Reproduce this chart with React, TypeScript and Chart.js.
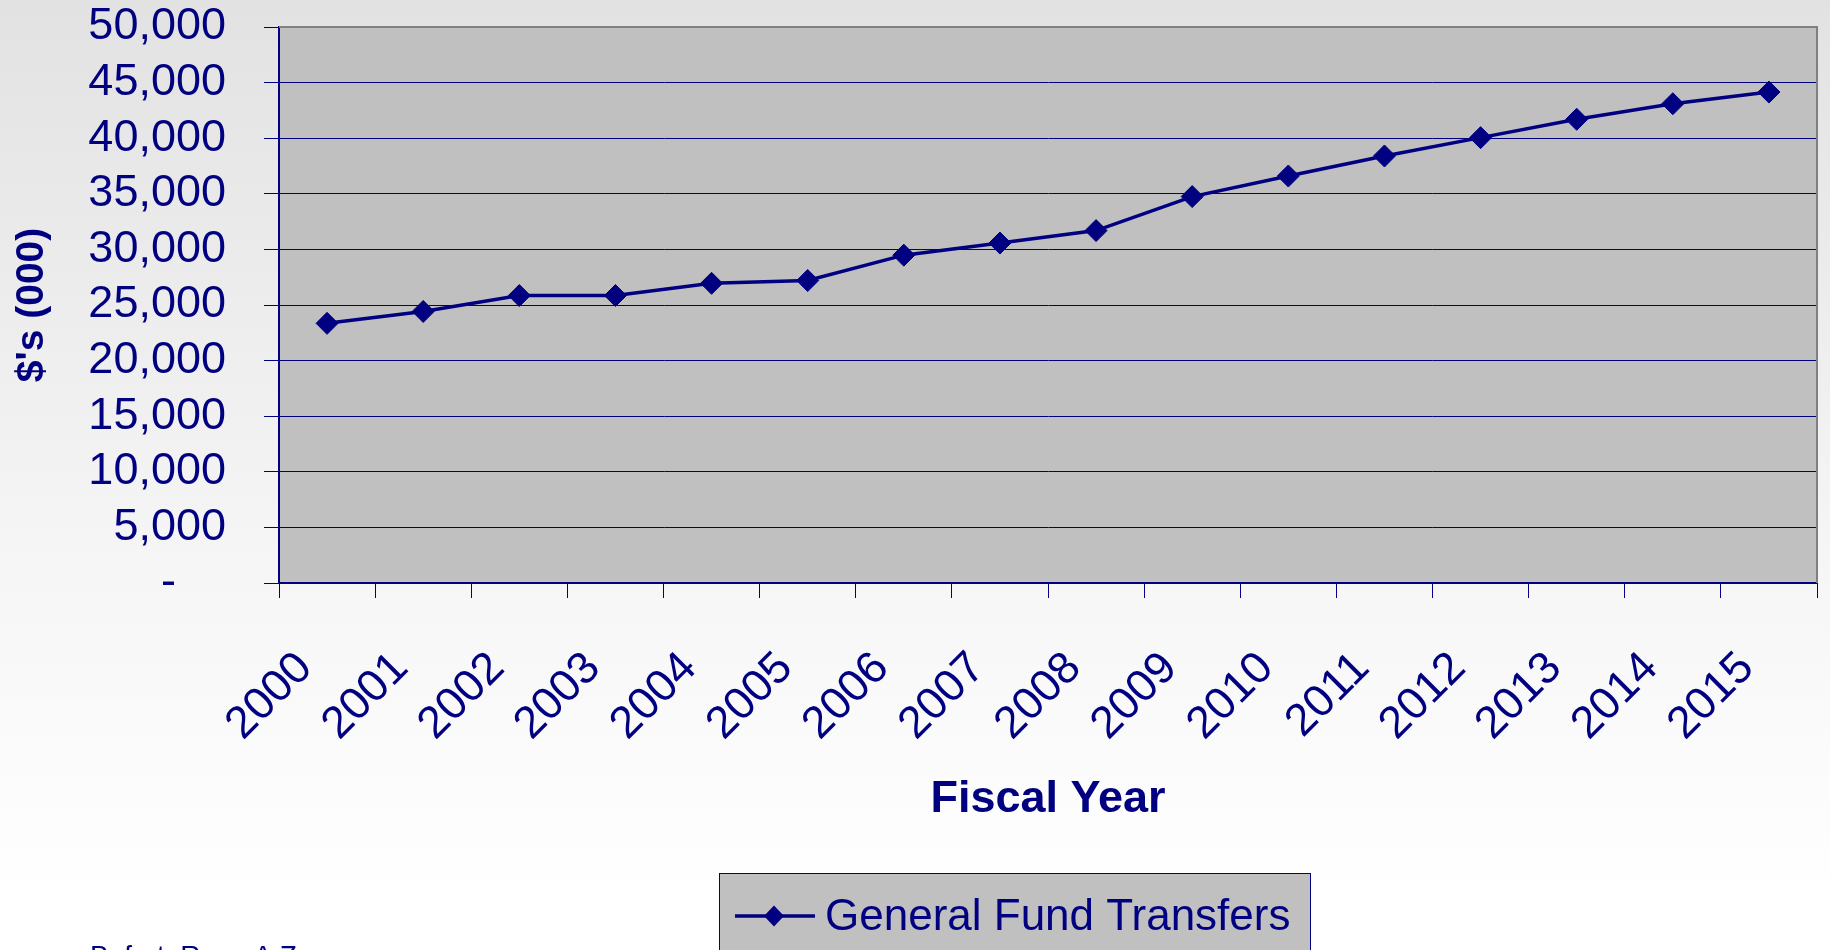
import React, { useEffect, useRef } from "react";
import { Chart, registerables } from "chart.js";

Chart.register(...registerables);

// ---- data ----
const years = ["2000", "2001", "2002", "2003", "2004", "2005", "2006", "2007", "2008", "2009", "2010", "2011", "2012", "2013", "2014", "2015"];
const transfers = [23350, 24420, 25850, 25850, 26950, 27200, 29480, 30570, 31690, 34750, 36600, 38400, 40050, 41700, 43100, 44150];
const yMin = 0;
const yMax = 50000;
const yStep = 5000;
const seriesLabel = "General Fund Transfers";
const xTitle = "Fiscal Year";
const yTitle = "$'s (000)";
const footnote = "Befort, Ryan A.Z.";

const NAVY = "#000080";
const FONT = "'Liberation Sans', Arial, Helvetica, sans-serif";

const decorPlugin = {
  id: "decor",
  beforeDraw(chart: any) {
    const { ctx, width, height, chartArea: a } = chart;
    ctx.save();
    const g = ctx.createLinearGradient(0, 0, 0, height);
    g.addColorStop(0, "#e2e2e2");
    g.addColorStop(0.6, "#f6f6f6");
    g.addColorStop(0.95, "#ffffff");
    g.addColorStop(1, "#ffffff");
    ctx.fillStyle = g;
    ctx.fillRect(0, 0, width, height);
    ctx.fillStyle = "#c0c0c0";
    ctx.fillRect(a.left, a.top, a.right - a.left, a.bottom - a.top);
    ctx.restore();
  },
  afterDraw(chart: any) {
    const { ctx, chartArea: a } = chart;
    ctx.save();
    // plot frame (top / right)
    ctx.strokeStyle = "#808080";
    ctx.lineWidth = 2;
    ctx.beginPath();
    ctx.moveTo(a.left, a.top);
    ctx.lineTo(a.right, a.top);
    ctx.lineTo(a.right, a.bottom);
    ctx.stroke();

    // legend
    const ds = chart.data.datasets[0];
    const bx = 719, by = 873, bw = 591, bh = 120;
    ctx.fillStyle = "#c0c0c0";
    ctx.fillRect(bx, by, bw, bh);
    ctx.strokeStyle = NAVY;
    ctx.lineWidth = 1;
    ctx.strokeRect(bx + 0.5, by + 0.5, bw, bh);
    const ly = 916;
    ctx.strokeStyle = NAVY;
    ctx.lineWidth = 3.5;
    ctx.beginPath();
    ctx.moveTo(735, ly);
    ctx.lineTo(815, ly);
    ctx.stroke();
    ctx.fillStyle = NAVY;
    ctx.beginPath();
    ctx.moveTo(774, ly - 10.5);
    ctx.lineTo(784, ly);
    ctx.lineTo(774, ly + 10.5);
    ctx.lineTo(764, ly);
    ctx.closePath();
    ctx.fill();
    ctx.font = `44px ${FONT}`;
    ctx.textAlign = "left";
    ctx.textBaseline = "alphabetic";
    ctx.fillText(ds.label, 825, 930);

    // footnote (cut off at bottom)
    ctx.font = `28px ${FONT}`;
    ctx.fillText(footnote, 90, 965);
    ctx.restore();
  },
};

export default function App() {
  const ref = useRef<HTMLCanvasElement | null>(null);

  useEffect(() => {
    document.body.style.margin = "0";
    if (!ref.current) return;
    const chart = new Chart(ref.current, {
      type: "line",
      data: {
        labels: years,
        datasets: [
          {
            label: seriesLabel,
            data: transfers,
            borderColor: NAVY,
            backgroundColor: NAVY,
            borderWidth: 3.5,
            pointStyle: "rectRot",
            pointRadius: 11,
            pointHoverRadius: 11,
            pointBackgroundColor: NAVY,
            pointBorderColor: NAVY,
            pointBorderWidth: 1,
            tension: 0,
            fill: false,
          },
        ],
      },
      options: {
        responsive: false,
        animation: false,
        layout: { padding: { top: 27, right: 13, left: 0, bottom: 0 } },
        plugins: {
          legend: { display: false },
          tooltip: { enabled: false },
        },
        scales: {
          x: {
            type: "category",
            offset: true,
            grid: {
              offset: true,
              drawOnChartArea: false,
              drawTicks: true,
              tickLength: 15,
              color: NAVY,
              lineWidth: 1,
            },
            border: { display: true, color: NAVY, width: 2 },
            ticks: {
              color: NAVY,
              font: { family: FONT, size: 45 },
              minRotation: 45,
              maxRotation: 45,
              padding: 44,
              labelOffset: -22,
              autoSkip: false,
            },
            title: {
              display: true,
              text: xTitle,
              color: NAVY,
              font: { family: FONT, size: 45, weight: "bold" },
              padding: { top: 0, bottom: 123 },
            },
            afterFit: (s: any) => {
              s.height = 367;
              s.paddingLeft = 0;
              s.paddingRight = 0;
            },
          },
          y: {
            min: yMin,
            max: yMax,
            grid: {
              color: NAVY,
              lineWidth: 1,
              drawTicks: true,
              tickLength: 15,
            },
            border: { display: true, color: NAVY, width: 2 },
            ticks: {
              stepSize: yStep,
              autoSkip: false,
              color: NAVY,
              font: { family: FONT, size: 45 },
              padding: 38,
              callback: (v: any) => (Number(v) === 0 ? "-    " : Number(v).toLocaleString("en-US")),
            },
            title: {
              display: true,
              text: yTitle,
              color: NAVY,
              font: { family: FONT, size: 39, weight: "bold" },
              padding: { top: 9, bottom: 0 },
            },
            afterFit: (s: any) => {
              s.width = 279;
              s.paddingTop = 0;
              s.paddingBottom = 0;
            },
          },
        },
      },
      plugins: [decorPlugin],
    } as any);
    return () => chart.destroy();
  }, []);

  return (
    <div style={{ width: 1830, height: 950, overflow: "hidden" }}>
      <canvas ref={ref} width={1830} height={950} style={{ display: "block" }} />
    </div>
  );
}
